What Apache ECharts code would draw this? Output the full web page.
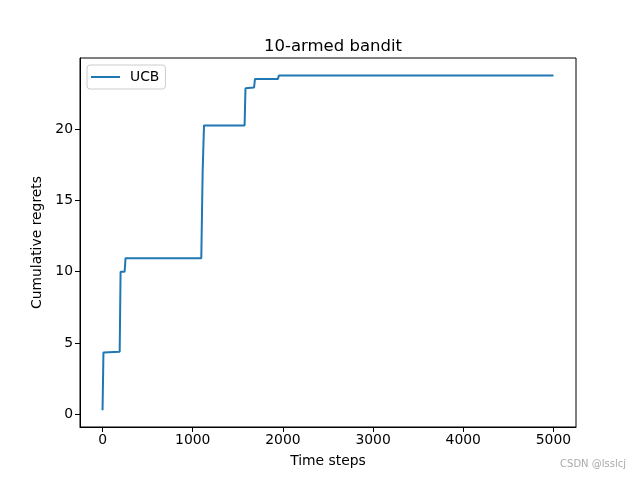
<!DOCTYPE html>
<html><head><meta charset="utf-8">
<script src="https://cdn.jsdelivr.net/npm/echarts@6/dist/echarts.min.js"></script>
<style>html,body{margin:0;padding:0;background:#fff}#c{width:640px;height:480px}</style>
</head><body><div id="c"></div>
<script>
const steps   = [0, 10, 190, 200, 245, 255, 1095, 1110, 1125, 1575, 1585, 1680, 1690, 1945, 1955, 5000];
const regrets = [0.3, 4.35, 4.4, 10.0, 10.0, 10.95, 10.95, 17.0, 20.25, 20.25, 22.85, 22.9, 23.5, 23.5, 23.75, 23.75];
const xTicks = [0, 1000, 2000, 3000, 4000, 5000];
const yTicks = [0, 5, 10, 15, 20];
const seriesName = 'UCB';
const F = 'DejaVu Sans';
const chart = echarts.init(document.getElementById('c'), null, {renderer:'canvas'});
chart.setOption({
  backgroundColor:'#fff',
  animation:false,
  title:{text:'10-armed bandit', left:328, textAlign:'center', top:33,
    textStyle:{fontFamily:F, fontSize:16.5, fontWeight:'normal', color:'#000'}},
  legend:{left:87, top:65, data:[seriesName], icon:'rect', itemWidth:29, itemHeight:2,
    itemGap:8, padding:[5,6,5,4], borderColor:'#cccccc', borderWidth:1, borderRadius:3,
    textStyle:{fontFamily:F, fontSize:13.9, color:'#000', padding:[0,0,0,5]}},
  grid:{left:80, right:64, top:58, bottom:53, show:true, borderColor:'#000', borderWidth:1, containLabel:false},
  xAxis:{type:'value', min:-250, max:5250, name:'Time steps', nameLocation:'middle', nameGap:27,
    nameTextStyle:{fontFamily:F, fontSize:13.9, color:'#000'},
    axisLine:{show:true, onZero:false, lineStyle:{color:'#000', width:1}},
    axisTick:{show:true, length:5, lineStyle:{color:'#000'}, customValues:xTicks},
    axisLabel:{fontFamily:F, fontSize:13.9, color:'#000', margin:6, customValues:xTicks, formatter:v=>String(v)},
    splitLine:{show:false}},
  yAxis:{type:'value', min:-0.875, max:24.97, name:'Cumulative regrets', nameLocation:'middle', nameGap:35,
    nameTextStyle:{fontFamily:F, fontSize:13.9, color:'#000'},
    axisLine:{show:true, onZero:false, lineStyle:{color:'#000', width:1}},
    axisTick:{show:true, length:5, lineStyle:{color:'#000'}, customValues:yTicks},
    axisLabel:{fontFamily:F, fontSize:13.9, color:'#000', margin:7, customValues:yTicks, formatter:v=>String(v)},
    splitLine:{show:false}},
  graphic:[{type:'text', right:14, top:459, style:{text:'CSDN @lsslcj', fontFamily:F, fontSize:10, fill:'#aaaaaa'}}],
  series:[{name:seriesName, type:'line', showSymbol:false, symbol:'none',
    data: steps.map((s,i)=>[s, regrets[i]]),
    lineStyle:{color:'#1f77b4', width:2}, itemStyle:{color:'#1f77b4'}}]
});
</script></body></html>
